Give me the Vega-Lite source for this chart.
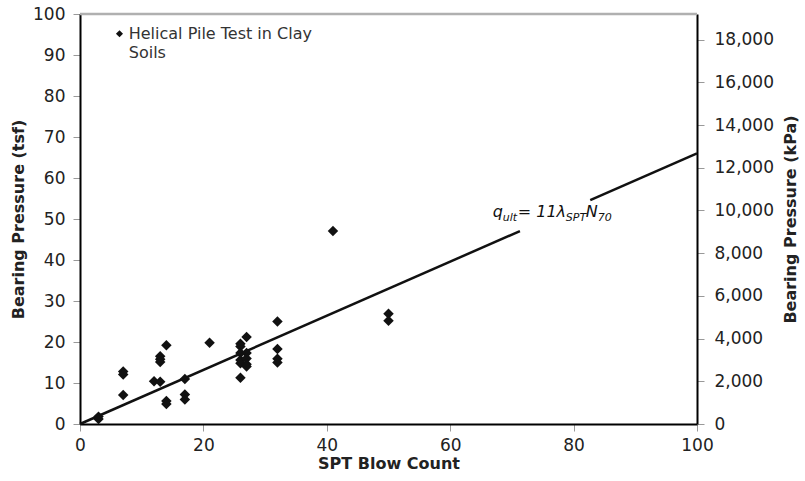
{
  "$schema": "https://vega.github.io/schema/vega-lite/v6.json",
  "width": 617,
  "height": 410,
  "autosize": {"type": "none"},
  "padding": {"left": 80, "top": 14, "right": 108, "bottom": 57},
  "background": "white",
  "datasets": {
    "pts": [
      {"spt": 3, "tsf": 1.8}, {"spt": 3, "tsf": 1.2},
      {"spt": 7, "tsf": 12.8}, {"spt": 7, "tsf": 12.1}, {"spt": 7, "tsf": 7.1},
      {"spt": 12, "tsf": 10.4}, {"spt": 13, "tsf": 10.3},
      {"spt": 13, "tsf": 16.5}, {"spt": 13, "tsf": 15.8}, {"spt": 13, "tsf": 15.1},
      {"spt": 14, "tsf": 19.2}, {"spt": 14, "tsf": 5.6}, {"spt": 14, "tsf": 4.9},
      {"spt": 17, "tsf": 11.0}, {"spt": 17, "tsf": 7.2}, {"spt": 17, "tsf": 6.0},
      {"spt": 21, "tsf": 19.8},
      {"spt": 26, "tsf": 19.6}, {"spt": 26, "tsf": 18.9}, {"spt": 26, "tsf": 17.3},
      {"spt": 26, "tsf": 15.6}, {"spt": 26, "tsf": 14.8}, {"spt": 26, "tsf": 11.3},
      {"spt": 27, "tsf": 21.2}, {"spt": 27, "tsf": 17.3}, {"spt": 27, "tsf": 16.0},
      {"spt": 27, "tsf": 14.6}, {"spt": 27, "tsf": 14.0},
      {"spt": 32, "tsf": 25.0}, {"spt": 32, "tsf": 18.3}, {"spt": 32, "tsf": 15.9}, {"spt": 32, "tsf": 15.0},
      {"spt": 41, "tsf": 47.1},
      {"spt": 50, "tsf": 26.9}, {"spt": 50, "tsf": 25.2}
    ],
    "fit": [
      {"seg": "a", "spt": 0, "tsf": 0},
      {"seg": "a", "spt": 71.3, "tsf": 47.06},
      {"seg": "b", "spt": 82.7, "tsf": 54.6},
      {"seg": "b", "spt": 100, "tsf": 66}
    ],
    "one": [{"k": 1}],
    "border": [{"x0": 0, "x1": 100, "top": 100}],
    "kpa": [{"kpa": 0}]
  },
  "layer": [
    {
      "layer": [
        {
          "data": {"name": "border"},
          "mark": {"type": "rule", "color": "#b0b0b0", "strokeWidth": 2.5, "opacity": 1},
          "encoding": {
            "x": {"field": "x0", "type": "quantitative", "title": "SPT Blow Count"},
            "x2": {"field": "x1"},
            "y": {"field": "top", "type": "quantitative", "title": "Bearing Pressure (tsf)"}
          }
        },
        {
          "data": {"name": "fit"},
          "mark": {"type": "line", "color": "#111", "strokeWidth": 2.5},
          "encoding": {
            "x": {"field": "spt", "type": "quantitative", "title": "SPT Blow Count"},
            "y": {"field": "tsf", "type": "quantitative", "title": "Bearing Pressure (tsf)"},
            "detail": {"field": "seg"}
          }
        },
        {
          "data": {"name": "pts"},
          "mark": {"type": "point", "shape": "diamond", "filled": true, "color": "#111", "opacity": 1, "size": 110},
          "encoding": {
            "x": {
              "field": "spt", "type": "quantitative", "title": "SPT Blow Count",
              "scale": {"domain": [0, 100], "nice": false, "zero": true},
              "axis": {"values": [0, 20, 40, 60, 80, 100], "orient": "bottom"}
            },
            "y": {
              "field": "tsf", "type": "quantitative", "title": "Bearing Pressure (tsf)",
              "scale": {"domain": [0, 100], "nice": false},
              "axis": {"values": [0, 10, 20, 30, 40, 50, 60, 70, 80, 90, 100], "orient": "left"}
            }
          }
        },
        {
          "data": {"name": "one"},
          "mark": {"type": "point", "shape": "diamond", "filled": true, "color": "#111", "opacity": 1, "size": 50},
          "encoding": {
            "x": {"datum": 6.4, "type": "quantitative", "title": "SPT Blow Count"},
            "y": {"datum": 95.2, "type": "quantitative", "title": "Bearing Pressure (tsf)"}
          }
        },
        {
          "data": {"name": "one"},
          "mark": {"type": "text", "align": "left", "baseline": "middle", "font": "DejaVu Sans", "fontSize": 16, "color": "#333"},
          "encoding": {
            "x": {"datum": 7.9, "type": "quantitative", "title": "SPT Blow Count"},
            "y": {"datum": 95.2, "type": "quantitative", "title": "Bearing Pressure (tsf)"},
            "text": {"value": "Helical Pile Test in Clay"}
          }
        },
        {
          "data": {"name": "one"},
          "mark": {"type": "text", "align": "left", "baseline": "middle", "font": "DejaVu Sans", "fontSize": 16, "color": "#333"},
          "encoding": {
            "x": {"datum": 7.9, "type": "quantitative", "title": "SPT Blow Count"},
            "y": {"datum": 90.5, "type": "quantitative", "title": "Bearing Pressure (tsf)"},
            "text": {"value": "Soils"}
          }
        },
        {
          "data": {"name": "one"},
          "mark": {"type": "text", "align": "left", "baseline": "alphabetic", "font": "DejaVu Sans", "fontStyle": "italic", "fontSize": 16, "color": "#111"},
          "encoding": {
            "x": {"datum": 66.9, "type": "quantitative", "title": "SPT Blow Count"},
            "y": {"datum": 50.6, "type": "quantitative", "title": "Bearing Pressure (tsf)"},
            "text": {"value": "q"}
          }
        },
        {
          "data": {"name": "one"},
          "mark": {"type": "text", "align": "left", "baseline": "alphabetic", "font": "DejaVu Sans", "fontStyle": "italic", "fontSize": 11, "color": "#111", "dx": 10, "dy": 4},
          "encoding": {
            "x": {"datum": 66.9, "type": "quantitative", "title": "SPT Blow Count"},
            "y": {"datum": 50.6, "type": "quantitative", "title": "Bearing Pressure (tsf)"},
            "text": {"value": "ult"}
          }
        },
        {
          "data": {"name": "one"},
          "mark": {"type": "text", "align": "left", "baseline": "alphabetic", "font": "DejaVu Sans", "fontStyle": "italic", "fontSize": 16, "color": "#111", "dx": 25},
          "encoding": {
            "x": {"datum": 66.9, "type": "quantitative", "title": "SPT Blow Count"},
            "y": {"datum": 50.6, "type": "quantitative", "title": "Bearing Pressure (tsf)"},
            "text": {"value": "= 11λ"}
          }
        },
        {
          "data": {"name": "one"},
          "mark": {"type": "text", "align": "left", "baseline": "alphabetic", "font": "DejaVu Sans", "fontStyle": "italic", "fontSize": 11, "color": "#111", "dx": 73, "dy": 4},
          "encoding": {
            "x": {"datum": 66.9, "type": "quantitative", "title": "SPT Blow Count"},
            "y": {"datum": 50.6, "type": "quantitative", "title": "Bearing Pressure (tsf)"},
            "text": {"value": "SPT"}
          }
        },
        {
          "data": {"name": "one"},
          "mark": {"type": "text", "align": "left", "baseline": "alphabetic", "font": "DejaVu Sans", "fontStyle": "italic", "fontSize": 16, "color": "#111", "dx": 93},
          "encoding": {
            "x": {"datum": 66.9, "type": "quantitative", "title": "SPT Blow Count"},
            "y": {"datum": 50.6, "type": "quantitative", "title": "Bearing Pressure (tsf)"},
            "text": {"value": "N"}
          }
        },
        {
          "data": {"name": "one"},
          "mark": {"type": "text", "align": "left", "baseline": "alphabetic", "font": "DejaVu Sans", "fontStyle": "italic", "fontSize": 11, "color": "#111", "dx": 105, "dy": 4},
          "encoding": {
            "x": {"datum": 66.9, "type": "quantitative", "title": "SPT Blow Count"},
            "y": {"datum": 50.6, "type": "quantitative", "title": "Bearing Pressure (tsf)"},
            "text": {"value": "70"}
          }
        }
      ]
    },
    {
      "data": {"name": "kpa"},
      "mark": {"type": "rule", "strokeOpacity": 0},
      "encoding": {
        "y": {
          "field": "kpa", "type": "quantitative", "title": "Bearing Pressure (kPa)",
          "scale": {"domain": [0, 19200], "nice": false},
          "axis": {
            "orient": "right",
            "values": [0, 2000, 4000, 6000, 8000, 10000, 12000, 14000, 16000, 18000],
            "format": ",.0f",
            "titleAngle": 270,
            "titleBaseline": "top",
            "labelPadding": 10,
            "titlePadding": 9
          }
        }
      }
    }
  ],
  "resolve": {"scale": {"y": "independent"}, "axis": {"y": "independent"}},
  "config": {
    "view": {"stroke": null},
    "axis": {
      "grid": false,
      "labelFont": "DejaVu Sans",
      "labelFontSize": 17,
      "labelColor": "#222",
      "titleFont": "DejaVu Sans",
      "titleFontSize": 16,
      "titleFontWeight": "bold",
      "titleColor": "#222",
      "domainColor": "#000",
      "domainWidth": 2,
      "tickColor": "#999",
      "tickSize": 7,
      "tickWidth": 1,
      "labelPadding": 8,
      "titlePadding": 6
    },
    "axisBottom": {"labelPadding": 6, "titlePadding": 2, "labelFlush": false},
    "axisLeft": {"labelPadding": 8, "titlePadding": 6}
  }
}
